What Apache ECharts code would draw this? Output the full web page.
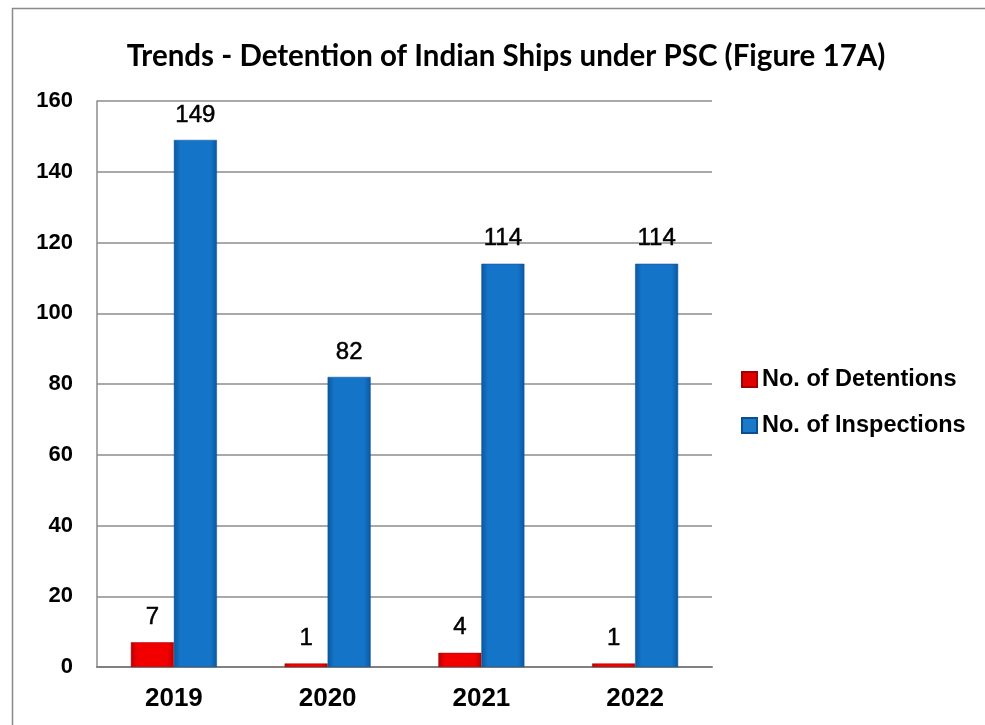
<!DOCTYPE html>
<html><head><meta charset="utf-8">
<script src="https://cdn.jsdelivr.net/npm/echarts@6/dist/echarts.min.js"></script>
<style>html,body{margin:0;padding:0;background:#fff}#c{width:985px;height:725px}</style>
</head><body><div id="c"></div>
<script>
const titleText = 'Trends - Detention of Indian Ships under PSC (Figure 17A)';
const categories = ['2019', '2020', '2021', '2022'];
const detentions = [7, 1, 4, 1];
const inspections = [149, 82, 114, 114];
const yMin = 0, yMax = 160, yStep = 20;

const chart = echarts.init(document.getElementById('c'));
function grad(edge, mid) {
  return new echarts.graphic.LinearGradient(0, 0, 1, 0, [
    {offset: 0, color: edge}, {offset: 0.15, color: mid}, {offset: 0.85, color: mid}, {offset: 1, color: edge}
  ]);
}
const labelStyle = {show: true, position: 'top', distance: 13, color: '#000', fontSize: 24,
  fontFamily: 'Liberation Sans', textBorderColor: '#000', textBorderWidth: 0.5};
chart.setOption({
  animation: false,
  backgroundColor: '#fff',
  graphic: [{type: 'rect', shape: {x: 12.5, y: 8.5, width: 1000, height: 800}, style: {fill: 'none', stroke: '#8a8a8a', lineWidth: 1.5}}],
  title: {text: titleText, left: 501, top: 36, textAlign: 'center',
    textStyle: {fontFamily: 'Lato', fontWeight: 'bold', fontSize: 29.5, color: '#000'}},
  grid: {left: 97, right: 273, top: 101, bottom: 58},
  legend: {orient: 'vertical', left: 741, top: 367.5, padding: 0, itemWidth: 15, itemHeight: 15, itemGap: 22,
    icon: 'rect',
    textStyle: {fontFamily: 'Liberation Sans', fontWeight: 'bold', fontSize: 23.5, lineHeight: 24, color: '#000'},
    data: [{name: 'No. of Detentions', itemStyle: {color: '#e00000'}}, {name: 'No. of Inspections', itemStyle: {color: '#1a7ac8'}}]},
  xAxis: {type: 'category', data: categories,
    axisLine: {lineStyle: {color: '#808080', width: 2}}, axisTick: {show: false},
    axisLabel: {fontFamily: 'Liberation Sans', fontWeight: 'bold', fontSize: 26, color: '#000', margin: 19}},
  yAxis: {type: 'value', min: yMin, max: yMax, interval: yStep,
    axisLine: {show: true, lineStyle: {color: '#8c8c8c', width: 1.5}},
    axisTick: {show: false},
    splitLine: {lineStyle: {color: '#8c8c8c', width: 1.5}},
    axisLabel: {fontFamily: 'Liberation Sans', fontWeight: 'bold', fontSize: 22, color: '#000', margin: 24}},
  series: [
    {name: 'No. of Detentions', type: 'bar', data: detentions, barWidth: 43, barGap: '0%',
      itemStyle: {color: grad('#b80000', '#f20000'), borderColor: '#a00000', borderWidth: 0.5},
      label: labelStyle},
    {name: 'No. of Inspections', type: 'bar', data: inspections, barWidth: 43, barGap: '0%',
      itemStyle: {color: grad('#0a58a0', '#1474c8'), borderColor: '#0a4f90', borderWidth: 0.5},
      label: labelStyle}
  ]
});
</script></body></html>
